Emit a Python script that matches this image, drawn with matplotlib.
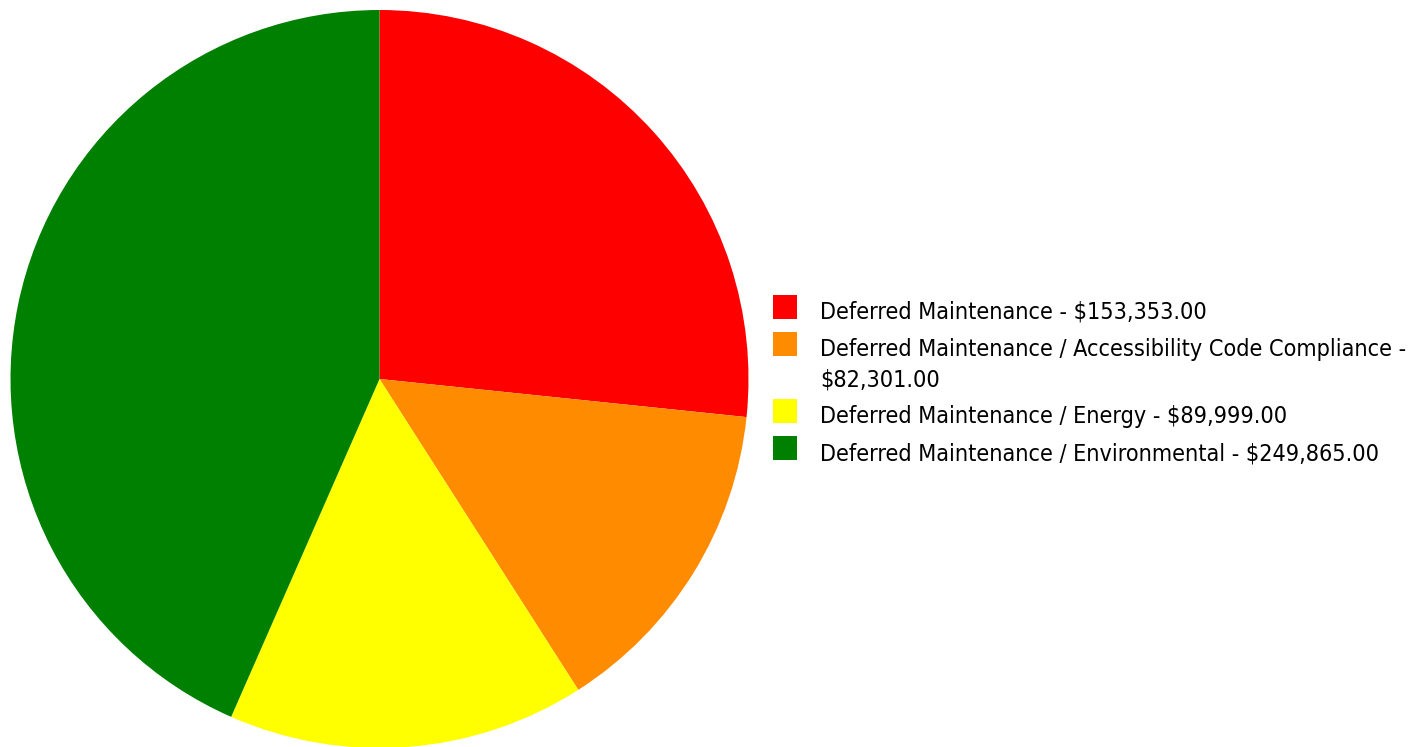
import matplotlib
matplotlib.use("Agg")
import matplotlib.pyplot as plt
from matplotlib.patches import Rectangle

# Deferred maintenance cost breakdown
categories = [
    "Deferred Maintenance",
    "Deferred Maintenance / Accessibility Code Compliance",
    "Deferred Maintenance / Energy",
    "Deferred Maintenance / Environmental",
]
amounts = [153353.00, 82301.00, 89999.00, 249865.00]
colors = ["#FF0000", "#FF8C00", "#FFFF00", "#008000"]
# whether each legend label wraps the amount onto a second line
wrap_amount = [False, True, False, False]

W, H = 1414, 747
DPI = 100
fig = plt.figure(figsize=(W / DPI, H / DPI), dpi=DPI)
fig.patch.set_facecolor("white")


def fx(px):
    return px / W


def fy(py):
    return 1 - py / H


# pie: centre (379.5, 379) px, radius 369 px
cx, cy, r = 379.5, 379.0, 369.0
ax = fig.add_axes([fx(cx - r), fy(cy + r), 2 * r / W, 2 * r / H])
ax.pie(amounts, colors=colors, startangle=90, counterclock=False,
       radius=1.0, wedgeprops=dict(linewidth=0))
ax.set_xlim(-1, 1)
ax.set_ylim(-1, 1)
ax.set_aspect("auto")
ax.axis("off")


def label_lines(name, value, wrap):
    amount = f"${value:,.2f}"
    if wrap:
        return [f"{name} -", amount]
    return [f"{name} - {amount}"]


font = dict(family="DejaVu Sans", stretch="condensed", fontsize=16.75)
sq = 24
x_sq, x_txt = 773, 820
row_gap, line_gap = 37, 30
baseline = 319
for name, value, color, wrap in zip(categories, amounts, colors, wrap_amount):
    fig.add_artist(Rectangle((fx(x_sq), fy(baseline)), sq / W, sq / H,
                             transform=fig.transFigure, facecolor=color,
                             edgecolor="none"))
    lines = label_lines(name, value, wrap)
    for i, line in enumerate(lines):
        fig.text(fx(x_txt), fy(baseline + i * line_gap), line,
                 va="baseline", ha="left", color="black", **font)
    baseline += row_gap + line_gap * (len(lines) - 1)

fig.savefig("out.png", dpi=DPI, facecolor="white")
